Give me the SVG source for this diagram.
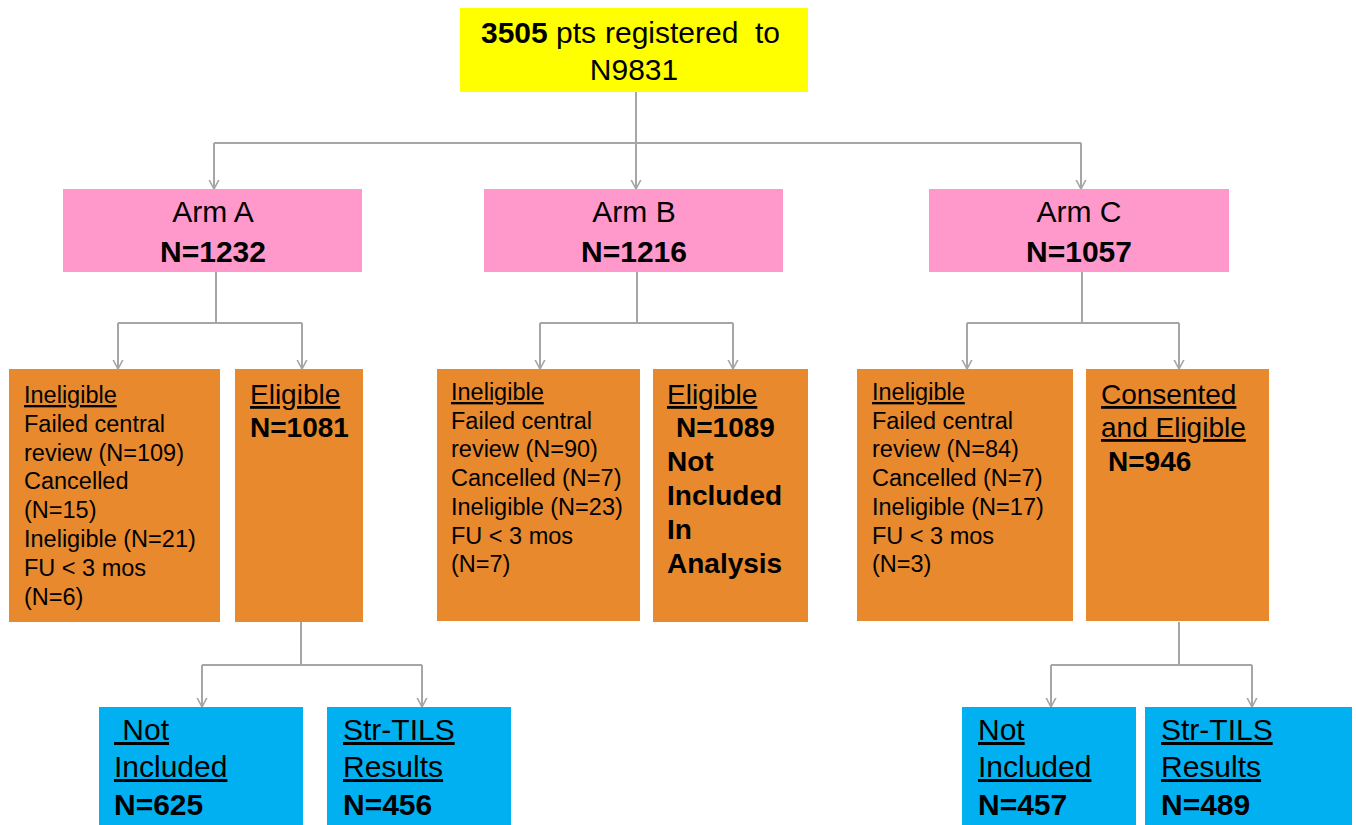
<svg xmlns="http://www.w3.org/2000/svg" width="1356" height="825" viewBox="0 0 1356 825">
<style>
text{font-family:"Liberation Sans",Arial,sans-serif;fill:#000}
.s{font-size:23.5px}
.m{font-size:28px}
.l{font-size:30px}
.b{font-weight:bold}
.u{text-decoration:underline}
.c{text-anchor:middle}
.yel{fill:#FFFF00}
.pink{fill:#FF99CC}
.org{fill:#E8892E}
.blue{fill:#00B0F0}
.conn{fill:none;stroke:#A6A6A6;stroke-width:2}
</style>
<defs>
<marker id="arr" viewBox="0 0 10 12" refX="9.5" refY="6" markerWidth="10" markerHeight="12" markerUnits="userSpaceOnUse" orient="auto">
<path d="M0,1 L9.5,6 L0,11" fill="none" stroke="#A6A6A6" stroke-width="1.6"/>
</marker>
</defs>
<rect width="1356" height="825" fill="#fff"/>
<g id="connectors" class="conn">
<path d="M636,92 V143"/>
<path d="M214,143 H1081"/>
<path d="M214,143 V189" marker-end="url(#arr)"/>
<path d="M636,143 V189" marker-end="url(#arr)"/>
<path d="M1081,143 V189" marker-end="url(#arr)"/>
<path d="M216,272 V323 M118,323 H302"/>
<path d="M118,323 V369" marker-end="url(#arr)"/>
<path d="M302,323 V369" marker-end="url(#arr)"/>
<path d="M637,272 V323 M540,323 H733"/>
<path d="M540,323 V369" marker-end="url(#arr)"/>
<path d="M733,323 V369" marker-end="url(#arr)"/>
<path d="M1082,272 V323 M967,323 H1179"/>
<path d="M967,323 V369" marker-end="url(#arr)"/>
<path d="M1179,323 V369" marker-end="url(#arr)"/>
<path d="M301,622 V665 M202,665 H422"/>
<path d="M202,665 V707" marker-end="url(#arr)"/>
<path d="M422,665 V707" marker-end="url(#arr)"/>
<path d="M1179,622 V665 M1051,665 H1252"/>
<path d="M1051,665 V707" marker-end="url(#arr)"/>
<path d="M1252,665 V707" marker-end="url(#arr)"/>
</g>
<g id="top">
<rect class="yel" x="460" y="8" width="348" height="84"/>
<text class="l" x="481" y="43"><tspan class="b">3505</tspan><tspan x="556">pts</tspan><tspan x="605">registered</tspan><tspan x="755">to</tspan></text>
<text class="l c" x="634" y="80">N9831</text>
</g>
<g id="armA">
<rect class="pink" x="63" y="189" width="299" height="83"/>
<text class="l c" x="213" y="222">Arm A</text>
<text class="l c b" x="213" y="262">N=1232</text>
</g>
<g id="armB">
<rect class="pink" x="484" y="189" width="299" height="83"/>
<text class="l c" x="634" y="222">Arm B</text>
<text class="l c b" x="634" y="262">N=1216</text>
</g>
<g id="armC">
<rect class="pink" x="929" y="189" width="300" height="83"/>
<text class="l c" x="1079" y="222">Arm C</text>
<text class="l c b" x="1079" y="262">N=1057</text>
</g>
<g id="inelA">
<rect class="org" x="9" y="369" width="211" height="253"/>
<text class="s" x="24" y="403"><tspan class="u">Ineligible</tspan><tspan x="24" dy="28.8">Failed central</tspan><tspan x="24" dy="28.8">review (N=109)</tspan><tspan x="24" dy="28.8">Cancelled</tspan><tspan x="24" dy="28.8">(N=15)</tspan><tspan x="24" dy="28.8">Ineligible (N=21)</tspan><tspan x="24" dy="28.8">FU &lt; 3 mos</tspan><tspan x="24" dy="28.8">(N=6)</tspan></text>
</g>
<g id="eligA">
<rect class="org" x="235" y="369" width="128" height="253"/>
<text class="m u" x="250" y="404">Eligible</text>
<text class="m b" x="250" y="437">N=1081</text>
</g>
<g id="inelB">
<rect class="org" x="437" y="369" width="203" height="252"/>
<text class="s" x="451" y="400"><tspan class="u">Ineligible</tspan><tspan x="451" dy="28.7">Failed central</tspan><tspan x="451" dy="28.7">review (N=90)</tspan><tspan x="451" dy="28.7">Cancelled (N=7)</tspan><tspan x="451" dy="28.7">Ineligible (N=23)</tspan><tspan x="451" dy="28.7">FU &lt; 3 mos</tspan><tspan x="451" dy="28.7">(N=7)</tspan></text>
</g>
<g id="eligB">
<rect class="org" x="653" y="369" width="155" height="253"/>
<text class="m u" x="667" y="404">Eligible</text>
<text class="m b" x="676" y="437">N=1089</text>
<text class="m b" x="667" y="471">Not</text>
<text class="m b" x="667" y="505">Included</text>
<text class="m b" x="667" y="539">In</text>
<text class="m b" x="667" y="573">Analysis</text>
</g>
<g id="inelC">
<rect class="org" x="857" y="369" width="216" height="252"/>
<text class="s" x="872" y="400"><tspan class="u">Ineligible</tspan><tspan x="872" dy="28.7">Failed central</tspan><tspan x="872" dy="28.7">review (N=84)</tspan><tspan x="872" dy="28.7">Cancelled (N=7)</tspan><tspan x="872" dy="28.7">Ineligible (N=17)</tspan><tspan x="872" dy="28.7">FU &lt; 3 mos</tspan><tspan x="872" dy="28.7">(N=3)</tspan></text>
</g>
<g id="eligC">
<rect class="org" x="1086" y="369" width="183" height="252"/>
<text class="m u" x="1101" y="404">Consented</text>
<text class="m u" x="1101" y="437">and Eligible</text>
<text class="m b" x="1108" y="471">N=946</text>
</g>
<g id="notInclA">
<rect class="blue" x="99" y="707" width="204" height="118"/>
<text class="l u" x="114" y="740" xml:space="preserve"> Not</text>
<text class="l u" x="114" y="777">Included</text>
<text class="l b" x="114" y="815">N=625</text>
</g>
<g id="tilsA">
<rect class="blue" x="327" y="707" width="184" height="118"/>
<text class="l u" x="343" y="740">Str-TILS</text>
<text class="l u" x="343" y="777">Results</text>
<text class="l b" x="343" y="815">N=456</text>
</g>
<g id="notInclC">
<rect class="blue" x="962" y="707" width="174" height="118"/>
<text class="l u" x="978" y="740">Not</text>
<text class="l u" x="978" y="777">Included</text>
<text class="l b" x="978" y="815">N=457</text>
</g>
<g id="tilsC">
<rect class="blue" x="1145" y="707" width="207" height="118"/>
<text class="l u" x="1161" y="740">Str-TILS</text>
<text class="l u" x="1161" y="777">Results</text>
<text class="l b" x="1161" y="815">N=489</text>
</g>
</svg>
